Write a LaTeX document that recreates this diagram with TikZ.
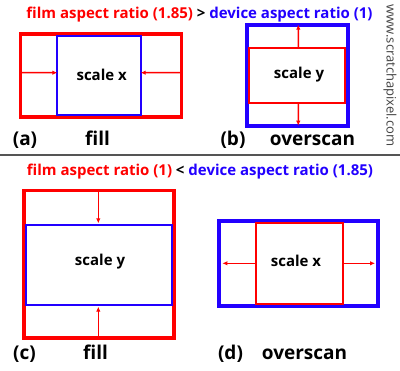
\documentclass[tikz,border=0pt]{standalone}
\usepackage{fontspec}
\setmainfont{Open Sans}
\usetikzlibrary{arrows.meta}
\definecolor{sepgray}{HTML}{555555}
\definecolor{urlgray}{HTML}{444444}
\definecolor{fred}{HTML}{FF0000}
\definecolor{dblue}{HTML}{2200FF}
\begin{document}
\begin{tikzpicture}[x=1bp,y=-1bp,
  box/.style={inner sep=0pt,outer sep=0pt},
  redthick/.style={draw=fred,line width=3.6bp},
  bluethick/.style={draw=dblue,line width=4bp},
  redthin/.style={draw=fred,line width=1.8bp},
  bluethin/.style={draw=dblue,line width=1.8bp},
  arr/.style={draw=fred,line width=1.4bp,-{Latex[length=5bp,width=4.5bp,fill=fred]}},
  title/.style={anchor=base,inner sep=0pt,font=\fontsize{15bp}{18bp}\selectfont\bfseries},
  inlabel/.style={inner sep=0pt,font=\fontsize{15bp}{18bp}\selectfont\bfseries},
  caption/.style={anchor=base,inner sep=0pt,font=\fontsize{19bp}{22bp}\selectfont\bfseries},
]
\useasboundingbox (0,0) rectangle (400,371);
\fill[white] (0,0) rectangle (400,371);

% titles
\node[title] (t1) at (199.5,18.5) {\textcolor{fred}{film aspect ratio (1.85)} > \textcolor{dblue}{device aspect ratio (1)}};
\node[title] (t2) at (200,175) {\textcolor{fred}{film aspect ratio (1)} < \textcolor{dblue}{device aspect ratio (1.85)}};

% separator
\coordinate (sl) at (0,155);
\coordinate (sr) at (400,155);
\draw[sepgray,line width=2bp] (sl) -- (sr);

% url
\node[rotate=-90,inner sep=0pt,text=urlgray,font=\fontsize{13bp}{15bp}\selectfont] (url) at (390,75.5) {www.scratchapixel.com};

% boxes (named nodes, frames drawn from their corners)
\node[box,minimum width=160.6bp,minimum height=83.3bp] (aout) at (101,75.35) {};
\node[box,minimum width=83.4bp,minimum height=79bp] (ain) at (99,75.5) {};
\node[box,minimum width=101bp,minimum height=101bp] (bout) at (297.5,75.2) {};
\node[box,minimum width=96bp,minimum height=55.6bp] (bin) at (297,75.5) {};
\node[box,minimum width=149.4bp,minimum height=147.7bp] (cout) at (99,264.2) {};
\node[box,minimum width=146bp,minimum height=79.4bp] (cin) at (98.7,265) {};
\node[box,minimum width=158.7bp,minimum height=85bp] (dout) at (298.7,263.8) {};
\node[box,minimum width=87bp,minimum height=81bp] (din) at (299.2,263.8) {};

\draw[redthick] (aout.north west) rectangle (aout.south east);
\draw[bluethin] (ain.north west) rectangle (ain.south east);
\draw[bluethick] (bout.north west) rectangle (bout.south east);
\draw[redthin] (bin.north west) rectangle (bin.south east);
\draw[redthick] (cout.north west) rectangle (cout.south east);
\draw[bluethin] (cin.north west) rectangle (cin.south east);
\draw[bluethick] (dout.north west) rectangle (dout.south east);
\draw[redthin] (din.north west) rectangle (din.south east);

% (a) fill
\node[inlabel] (alab) at (101.7,74.5) {scale x};
\draw[arr] ([yshift=2.7bp]aout.west) -- ([yshift=2.8bp]ain.west);
\draw[arr] ([yshift=2.7bp]aout.east) -- ([yshift=2.8bp]ain.east);
\node[caption] (acap) at (25,145) {(a)};
\node[caption] (aname) at (97.5,145) {fill};

% (b) overscan
\node[inlabel] (blab) at (299,75) {scale y};
\draw[arr] ([xshift=1.3bp]bin.north) -- ([xshift=0.8bp]bout.north);
\draw[arr] ([xshift=1.3bp]bin.south) -- ([xshift=0.8bp]bout.south);
\node[caption] (bcap) at (233,145) {(b)};
\node[caption] (bname) at (312.5,145) {overscan};

% (c) fill
\node[inlabel] (clab) at (100,262) {scale y};
\draw[arr] ([xshift=-0.7bp]cout.north) -- ([xshift=-0.4bp,yshift=2bp]cin.north);
\draw[arr] ([xshift=-0.7bp]cout.south) -- ([xshift=-0.4bp,yshift=-2bp]cin.south);
\node[caption] (ccap) at (24.5,359) {(c)};
\node[caption] (cname) at (95.5,359) {fill};

% (d) overscan
\node[inlabel] (dlab) at (296,261) {scale x};
\draw[arr] ([yshift=0.5bp]din.west) -- ([xshift=3bp,yshift=0.5bp]dout.west);
\draw[arr] ([yshift=0.5bp]din.east) -- ([xshift=-3bp,yshift=0.5bp]dout.east);
\node[caption] (dcap) at (230.5,359) {(d)};
\node[caption] (dname) at (304.5,359) {overscan};
\end{tikzpicture}
\end{document}
